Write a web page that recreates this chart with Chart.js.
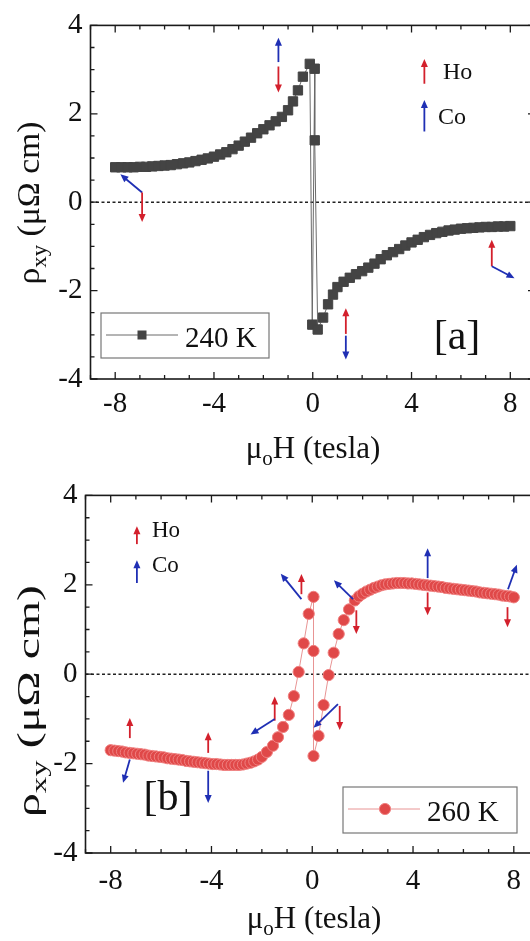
<!DOCTYPE html>
<html>
<head>
<meta charset="utf-8">
<script src="https://cdn.jsdelivr.net/npm/chart.js@4.4.1/dist/chart.umd.min.js"></script>
<style>
    html, body { margin: 0; padding: 0; background: #fff; width: 530px; height: 941px; overflow: hidden; }
    .panel { position: absolute; left: 0; }
</style>
</head>
<body>
<div class="panel" style="top:0px"><canvas id="chartA" width="560" height="470"></canvas></div>
<div class="panel" style="top:470px"><canvas id="chartB" width="560" height="471"></canvas></div>
<script>
// ---- data ----
const xTicks = [-8, -4, 0, 4, 8];
const yTicks = [-4, -2, 0, 2, 4];

// panel [a], 240 K
const fieldA = [-8.0, -7.75, -7.5, -7.25, -7.0, -6.75, -6.5, -6.25, -6.0, -5.75, -5.5, -5.25, -5.0, -4.75, -4.5, -4.25,
    -4.0, -3.75, -3.5, -3.25, -3.0, -2.75, -2.5, -2.25, -2.0, -1.75, -1.5, -1.25, -1.0, -0.8, -0.6, -0.4, -0.12,
    -0.02, 0.08, 0.08, 0.2, 0.42, 0.62, 0.82, 1.0, 1.25, 1.5, 1.75, 2.0, 2.25, 2.5, 2.75, 3.0, 3.25, 3.5, 3.75,
    4.0, 4.25, 4.5, 4.75, 5.0, 5.25, 5.5, 5.75, 6.0, 6.25, 6.5, 6.75, 7.0, 7.25, 7.5, 7.75, 8.0];
const rhoA = [0.79, 0.79, 0.79, 0.79, 0.80, 0.80, 0.81, 0.82, 0.83, 0.84, 0.86, 0.88, 0.90, 0.93, 0.96, 0.99,
    1.03, 1.08, 1.13, 1.20, 1.28, 1.37, 1.46, 1.56, 1.65, 1.74, 1.83, 1.93, 2.08, 2.28, 2.53, 2.84, 3.13,
    -2.77, 3.02, 1.40, -2.88, -2.61, -2.31, -2.09, -1.92, -1.80, -1.71, -1.63, -1.56, -1.48, -1.39, -1.29, -1.20, -1.13, -1.06, -0.98,
    -0.91, -0.85, -0.79, -0.74, -0.70, -0.67, -0.64, -0.62, -0.60, -0.59, -0.58, -0.57, -0.56, -0.56, -0.55, -0.55, -0.54];

// panel [b], 260 K
const fieldB = [-8.0, -7.85, -7.7, -7.55, -7.4, -7.25, -7.1, -6.95, -6.8, -6.65, -6.5, -6.35, -6.2, -6.05, -5.9, -5.75,
    -5.6, -5.45, -5.3, -5.15, -5.0, -4.85, -4.7, -4.55, -4.4, -4.25, -4.1, -3.95, -3.8, -3.65, -3.5, -3.35, -3.2, -3.05,
    -2.9, -2.75, -2.6, -2.45, -2.3, -2.15, -2.0,
    -1.8, -1.56, -1.36, -1.16, -0.93, -0.73, -0.54, -0.34, -0.14,
    0.05, 0.05, 0.05, 0.25, 0.45, 0.65, 0.85, 1.05, 1.25, 1.46, 1.69,
    1.85, 2.0, 2.15, 2.3, 2.45, 2.6, 2.75, 2.9, 3.05, 3.2, 3.35, 3.5, 3.65, 3.8, 3.95, 4.1, 4.25, 4.4, 4.55, 4.7,
    4.85, 5.0, 5.15, 5.3, 5.45, 5.6, 5.75, 5.9, 6.05, 6.2, 6.35, 6.5, 6.65, 6.8, 6.95, 7.1, 7.25, 7.4, 7.55, 7.7, 7.85, 8.0];
const rhoB = [-1.70, -1.71, -1.72, -1.73, -1.75, -1.76, -1.77, -1.78, -1.79, -1.80, -1.82, -1.83, -1.84, -1.85, -1.86, -1.88,
    -1.89, -1.90, -1.91, -1.92, -1.94, -1.95, -1.96, -1.97, -1.98, -1.99, -2.00, -2.01, -2.01, -2.02, -2.03, -2.03, -2.03, -2.03,
    -2.03, -2.02, -2.00, -1.98, -1.95, -1.91, -1.85,
    -1.74, -1.60, -1.41, -1.18, -0.91, -0.49, 0.05, 0.69, 1.35,
    1.73, 0.52, -1.83, -1.38, -0.69, -0.02, 0.48, 0.90, 1.21, 1.45, 1.65,
    1.74, 1.80, 1.85, 1.89, 1.93, 1.96, 1.99, 2.01, 2.02, 2.03, 2.04, 2.04, 2.04, 2.03, 2.03, 2.02, 2.01, 2.00, 1.99, 1.98,
    1.97, 1.96, 1.95, 1.93, 1.92, 1.91, 1.90, 1.89, 1.88, 1.87, 1.86, 1.85, 1.83, 1.82, 1.81, 1.80, 1.79, 1.78, 1.76, 1.75, 1.74, 1.72];

// spin arrows: [x1, y1, x2, y2, colour] in axis units, head at (x2, y2)
const RED = "#d3202c";
const BLUE = "#1f2fb4";
const arrowsA = [
    [-6.91, 0.22, -7.79, 0.63, BLUE], [-6.91, 0.22, -6.91, -0.45, RED],
    [-1.39, 3.17, -1.39, 3.72, BLUE], [-1.39, 3.07, -1.39, 2.48, RED],
    [4.52, 2.68, 4.52, 3.24, RED], [4.52, 1.60, 4.52, 2.31, BLUE],
    [7.25, -1.45, 7.25, -0.85, RED], [7.25, -1.45, 8.17, -1.72, BLUE],
    [1.34, -2.98, 1.34, -2.40, RED], [1.34, -3.02, 1.34, -3.56, BLUE]
];
const arrowsB = [
    [-6.96, 2.91, -6.96, 3.31, RED], [-6.96, 2.04, -6.96, 2.55, BLUE],
    [-7.24, -1.43, -7.24, -0.98, RED], [-7.24, -1.91, -7.51, -2.43, BLUE],
    [-4.13, -1.76, -4.13, -1.30, RED], [-4.13, -2.16, -4.13, -2.88, BLUE],
    [-1.49, -1.04, -1.49, -0.50, RED], [-1.49, -1.00, -2.45, -1.35, BLUE],
    [-0.43, 1.68, -1.25, 2.25, BLUE], [-0.43, 1.79, -0.43, 2.24, RED],
    [1.62, 1.68, 0.86, 2.10, BLUE], [1.75, 1.43, 1.75, 0.90, RED],
    [1.02, -0.67, 0.05, -1.20, BLUE], [1.09, -0.71, 1.09, -1.25, RED],
    [4.58, 2.15, 4.58, 2.82, BLUE], [4.58, 1.83, 4.58, 1.32, RED],
    [7.77, 1.90, 8.12, 2.45, BLUE], [7.75, 1.50, 7.75, 1.05, RED]
];

const SERIF = "'Liberation Serif', 'Times New Roman', serif";

function drawArrow(ctx, x1, y1, x2, y2, color) {
    const ang = Math.atan2(y2 - y1, x2 - x1);
    const head = 8, half = 3.5;
    ctx.save();
    ctx.strokeStyle = color;
    ctx.fillStyle = color;
    ctx.lineWidth = 1.8;
    ctx.beginPath();
    ctx.moveTo(x1, y1);
    ctx.lineTo(x2 - Math.cos(ang) * head * 0.8, y2 - Math.sin(ang) * head * 0.8);
    ctx.stroke();
    ctx.beginPath();
    ctx.moveTo(x2, y2);
    ctx.lineTo(x2 - Math.cos(ang) * head - Math.sin(ang) * half, y2 - Math.sin(ang) * head + Math.cos(ang) * half);
    ctx.lineTo(x2 - Math.cos(ang) * head + Math.sin(ang) * half, y2 - Math.sin(ang) * head - Math.cos(ang) * half);
    ctx.closePath();
    ctx.fill();
    ctx.restore();
}

// text with sub-scripted pieces: parts = [[text, isSub], ...]
function richWidth(ctx, parts, size) {
    let w = 0;
    parts.forEach(p => {
        ctx.font = (p[1] ? Math.round(size * 0.68) : size) + "px " + SERIF;
        w += ctx.measureText(p[0]).width;
    });
    return w;
}

function drawRich(ctx, parts, size, x, y) {
    let cx = x;
    parts.forEach(p => {
        ctx.font = (p[1] ? Math.round(size * 0.68) : size) + "px " + SERIF;
        ctx.fillText(p[0], cx, p[1] ? y + size * 0.22 : y);
        cx += ctx.measureText(p[0]).width;
    });
}

function decor(cfg) {
    return {
        id: "decor",
        beforeDatasetsDraw(chart) {
            // dotted zero line
            const ctx = chart.ctx, a = chart.chartArea;
            const y0 = chart.scales.y.getPixelForValue(0);
            ctx.save();
            ctx.strokeStyle = "#222";
            ctx.lineWidth = 1.5;
            ctx.setLineDash([3, 2.5]);
            ctx.beginPath();
            ctx.moveTo(a.left, y0);
            ctx.lineTo(a.right, y0);
            ctx.stroke();
            ctx.restore();
        },
        afterDraw(chart) {
            const ctx = chart.ctx, a = chart.chartArea;
            const xs = chart.scales.x, ys = chart.scales.y;

            // frame and inward ticks
            ctx.save();
            ctx.strokeStyle = "#1a1a1a";
            ctx.lineWidth = 1.6;
            ctx.strokeRect(a.left, a.top, a.right - a.left, a.bottom - a.top);
            ctx.lineWidth = 1.3;
            ctx.beginPath();
            for (let v = -9; v <= 9; v += 1) {
                const len = xTicks.includes(v) ? 7 : 4;
                const px = xs.getPixelForValue(v);
                ctx.moveTo(px, a.bottom); ctx.lineTo(px, a.bottom - len);
                ctx.moveTo(px, a.top); ctx.lineTo(px, a.top + len);
            }
            for (let v = -4; v <= 4; v += 0.5) {
                const len = yTicks.includes(v) ? 7 : 4;
                const py = ys.getPixelForValue(v);
                ctx.moveTo(a.left, py); ctx.lineTo(a.left + len, py);
                ctx.moveTo(a.right, py); ctx.lineTo(a.right - len, py);
            }
            ctx.stroke();
            ctx.restore();

            // arrows
            cfg.arrows.forEach(r => drawArrow(ctx, xs.getPixelForValue(r[0]), ys.getPixelForValue(r[1]),
                xs.getPixelForValue(r[2]), ys.getPixelForValue(r[3]), r[4]));

            ctx.save();
            ctx.fillStyle = "#111";
            ctx.textBaseline = "alphabetic";
            ctx.textAlign = "left";
            ctx.font = cfg.spinFont + "px " + SERIF;
            ctx.fillText("Ho", cfg.ho[0], cfg.ho[1]);
            ctx.fillText("Co", cfg.co[0], cfg.co[1]);

            ctx.textAlign = "center";
            ctx.font = "42px " + SERIF;
            ctx.fillText(cfg.tag, cfg.tagPos[0], cfg.tagPos[1]);

            // legend box
            const L = cfg.legend;
            ctx.strokeStyle = "#777";
            ctx.lineWidth = 1.2;
            ctx.strokeRect(L.x, L.y, L.w, L.h);
            const ds = chart.data.datasets[0];
            ctx.strokeStyle = ds.borderColor;
            ctx.lineWidth = 1;
            ctx.beginPath();
            ctx.moveTo(L.x + 5, L.my); ctx.lineTo(L.x + 77, L.my);
            ctx.stroke();
            ctx.fillStyle = ds.pointBackgroundColor;
            ctx.strokeStyle = ds.pointBorderColor;
            if (ds.pointStyle === "rect") {
                ctx.fillRect(L.x + 41 - 4.5, L.my - 4.5, 9, 9);
            } else {
                ctx.beginPath();
                ctx.arc(L.x + 42, L.my, ds.pointRadius, 0, Math.PI * 2);
                ctx.fill();
                ctx.stroke();
            }
            ctx.fillStyle = "#111";
            ctx.textAlign = "left";
            ctx.font = "29px " + SERIF;
            ctx.fillText(ds.label, L.x + 84, L.base);

            // axis titles
            const tSize = 31;
            const xt = [["\u03bc", false], ["o", true], ["H (tesla)", false]];
            const xw = richWidth(ctx, xt, tSize);
            drawRich(ctx, xt, tSize, cfg.xTitle[0] - xw / 2, cfg.xTitle[1]);

            const ySize = cfg.yTitle[3];
            const yt = [["\u03c1", false], ["xy", true], [" (\u03bc\u03a9 cm)", false]];
            const yw = richWidth(ctx, yt, ySize);
            ctx.translate(cfg.yTitle[0], cfg.yTitle[1]);
            ctx.rotate(-Math.PI / 2);
            ctx.scale(cfg.yTitle[2] / yw, 1);
            drawRich(ctx, yt, ySize, -yw / 2, 0);
            ctx.restore();
        }
    };
}

function makeChart(id, xsData, ysData, cfg) {
    const points = xsData.map((x, i) => ({x: x, y: ysData[i]}));
    return new Chart(document.getElementById(id), {
        type: "line",
        data: {
            datasets: [{
                label: cfg.label,
                data: points,
                borderColor: cfg.lineColor,
                borderWidth: 1,
                pointStyle: cfg.pointStyle,
                pointRadius: cfg.pointRadius,
                pointBackgroundColor: cfg.fill,
                pointBorderColor: cfg.edge,
                pointBorderWidth: 1,
                tension: 0
            }]
        },
        options: {
            responsive: false,
            animation: false,
            devicePixelRatio: 1,
            layout: {padding: {top: cfg.top, right: cfg.right, left: 0, bottom: 0}},
            plugins: {legend: {display: false}, tooltip: {enabled: false}},
            scales: {
                x: {
                    type: "linear", min: -9, max: 9,
                    grid: {display: false, drawTicks: false},
                    border: {display: false},
                    afterBuildTicks: s => { s.ticks = xTicks.map(v => ({value: v})); },
                    afterFit: s => { s.height = cfg.xHeight; },
                    ticks: {font: {family: SERIF, size: 29}, color: "#111", padding: cfg.xPad, maxRotation: 0, autoSkip: false}
                },
                y: {
                    type: "linear", min: -4, max: 4,
                    grid: {display: false, drawTicks: false},
                    border: {display: false},
                    afterBuildTicks: s => { s.ticks = yTicks.map(v => ({value: v})); },
                    afterFit: s => { s.width = cfg.yWidth; },
                    ticks: {font: {family: SERIF, size: 29}, color: "#111", padding: 8, autoSkip: false}
                }
            }
        },
        plugins: [decor(cfg)]
    });
}

makeChart("chartA", fieldA, rhoA, {
    label: "240 K", lineColor: "#6a6a6a", pointStyle: "rect", pointRadius: 6.6, fill: "#444", edge: "#444",
    top: 21, right: 25, xHeight: 91, yWidth: 90.5, xPad: 8,
    arrows: arrowsA, spinFont: 24, ho: [443, 79], co: [438, 124],
    tag: "[a]", tagPos: [457, 349],
    legend: {x: 101, y: 313, w: 168, h: 45, my: 335, base: 347},
    xTitle: [313, 458], yTitle: [39, 203, 163, 31]
});

makeChart("chartB", fieldB, rhoB, {
    label: "260 K", lineColor: "#e89494", pointStyle: "circle", pointRadius: 5.6, fill: "#e04848", edge: "#ef8080",
    top: 15, right: 21, xHeight: 88, yWidth: 85.5, xPad: 11,
    arrows: arrowsB, spinFont: 23, ho: [152, 67], co: [152, 102],
    tag: "[b]", tagPos: [168, 340],
    legend: {x: 343, y: 317, w: 174, h: 46, my: 339, base: 351},
    xTitle: [314, 458], yTitle: [39, 231, 232, 32]
});
</script>
</body>
</html>
